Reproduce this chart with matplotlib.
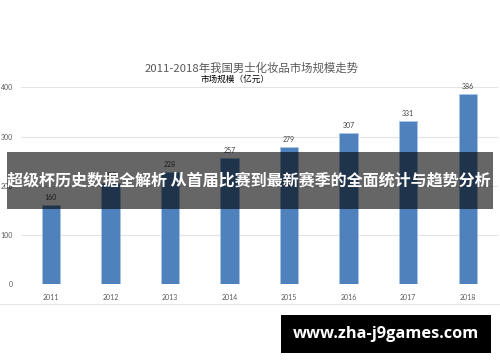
import matplotlib
matplotlib.use("Agg")
import matplotlib.pyplot as plt
from matplotlib.patches import Rectangle

years = ["2011", "2012", "2013", "2014", "2015", "2016", "2017", "2018"]
market = [160, 205, 228, 257, 279, 307, 331, 386]
yticks = [0, 100, 200, 300, 400]

title = "2011-2018年我国男士化妆品市场规模走势"
subtitle = "市场规模（亿元）"
banner = "超级杯历史数据全解析 从首届比赛到最新赛季的全面统计与趋势分析"
site = "www.zha-j9games.com"

plt.rcParams['font.family'] = ['Lato', 'Noto Sans CJK SC', 'DejaVu Sans']

fig = plt.figure(figsize=(5, 3.62), dpi=100)
ax = fig.add_axes([0.0424, 0.2155, 0.9526, 0.5428])

x = range(len(years))
ax.bar(x, market, width=0.31, color='#4f81bd', edgecolor='#a9c4e6', linewidth=0.6, zorder=3)
for i, v in enumerate(market):
	ax.text(i, v + 8, str(v), ha='center', va='bottom', fontsize=5, color='#404040', clip_on=False)

ax.set_xlim(-0.5, 7.5)
ax.set_ylim(0, 400)
ax.set_xticks(list(x))
ax.set_xticklabels(years)
ax.set_yticks(yticks)
ax.tick_params(axis='both', length=0, labelsize=5, labelcolor='#595959')
ax.tick_params(axis='x', pad=7)
ax.tick_params(axis='y', pad=6)
ax.grid(axis='y', color='#e3e3e3', linewidth=0.8, zorder=0)
for s in ax.spines.values():
	s.set_visible(False)

fig.text(0.503, 1 - 68 / 362, title, ha='center', va='center', fontsize=8.2,
	color='#595959', family=['Noto Sans CJK SC', 'DejaVu Sans'])
fig.text(0.47, 1 - 79.5 / 362, subtitle, ha='center', va='center', fontsize=6.2,
	color='#000000', family=['Noto Sans CJK SC', 'DejaVu Sans'])

# chart frame line at the bottom
fig.add_artist(plt.Line2D([0, 1], [1 - 304 / 362, 1 - 304 / 362], color='#e6e6e6', linewidth=0.8))

# banner overlay
fig.add_artist(Rectangle((7 / 500, 1 - 209 / 362), 486 / 500, 57 / 362,
	facecolor='black', alpha=0.6, edgecolor='none'))
fig.text(0.498, 1 - 181 / 362, banner, ha='center', va='center', fontsize=11.55,
	color='white', fontweight='bold', family=['Noto Sans CJK SC', 'DejaVu Sans'])

# watermark box
fig.add_artist(Rectangle((281 / 500, 1 - 353 / 362), 210 / 500, 38 / 362,
	facecolor='black', edgecolor='none'))
fig.text(386 / 500, 1 - 334 / 362, site, ha='center', va='center', fontsize=11.8,
	color='white', fontweight='bold', family=['Open Sans', 'DejaVu Sans'])

fig.savefig("out.png", dpi=100)
